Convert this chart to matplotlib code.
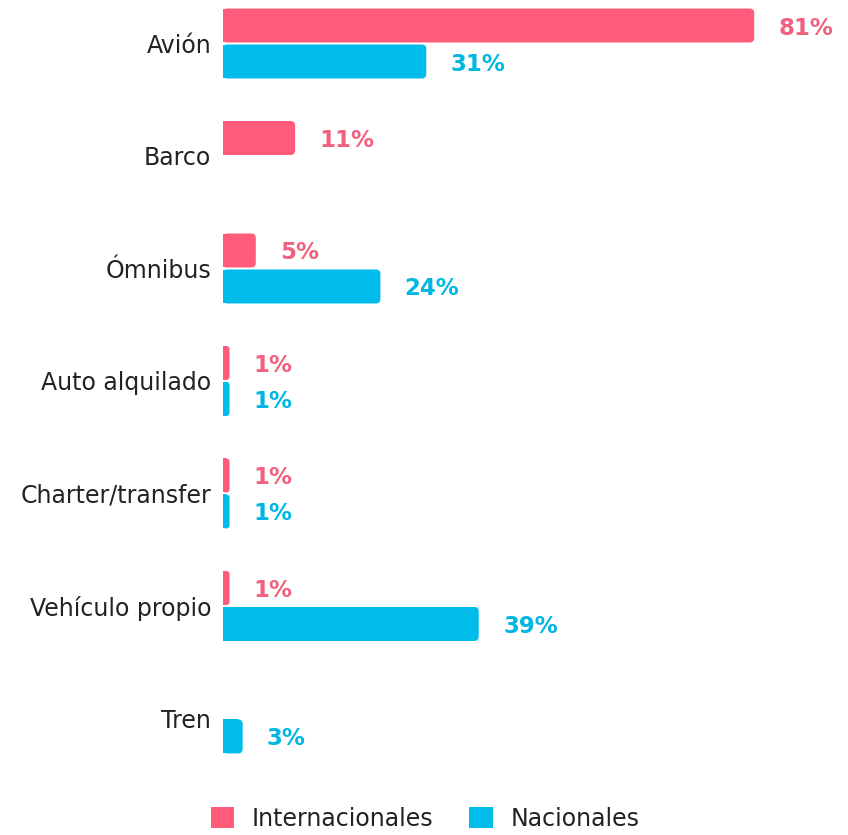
import numpy as np
import matplotlib
matplotlib.use("Agg")
import matplotlib.pyplot as plt
from matplotlib.patches import FancyBboxPatch, BoxStyle, Patch

categories = ["Avión", "Barco", "Ómnibus", "Auto alquilado",
              "Charter/transfer", "Vehículo propio", "Tren"]
internacionales = [81, 11, 5, 1, 1, 1, 0]
nacionales = [31, 0, 24, 1, 1, 39, 3]
series_names = ["Internacionales", "Nacionales"]

PINK = "#FF5C7B"
CYAN = "#00BCEA"
PINK_TXT = "#F2607F"
CYAN_TXT = "#00B6E2"

plt.rcParams['font.family'] = ['DejaVu Sans']

W, H = 848, 835
fig = plt.figure(figsize=(W / 100, H / 100), dpi=100)
ax = fig.add_axes([223 / W, 55 / H, 625 / W, 780 / H])

y = np.arange(len(categories))
bh = 0.302
off = 0.16

ax.set_xlim(0, 95.3)
ax.set_ylim(6.547, -0.3867)

bars_i = ax.barh(y - off, internacionales, height=bh, color=PINK, linewidth=0)
bars_n = ax.barh(y + off, nacionales, height=bh, color=CYAN, linewidth=0)

# pixel scale
p0 = ax.transData.transform((0, 0))
px_x = ax.transData.transform((1, 0))[0] - p0[0]
px_y = abs(ax.transData.transform((0, 1))[1] - p0[1])
aspect = px_x / px_y


def round_right(bars, color):
    for b in bars:
        w = b.get_width()
        if w <= 0:
            continue
        x0, y0, h = b.get_x(), b.get_y(), b.get_height()
        r_px = min(4.5, w * px_x / 2 - 0.2)
        r = r_px / px_x
        b.set_width(max(w - r, 0))
        fb = FancyBboxPatch((x0, y0), w, h,
                            boxstyle=BoxStyle.Round(pad=0, rounding_size=r),
                            mutation_aspect=aspect, facecolor=color,
                            edgecolor="none", linewidth=0)
        ax.add_patch(fb)


round_right(bars_i, PINK)
round_right(bars_n, CYAN)

for vals, ys, col in [(internacionales, y - off, PINK_TXT), (nacionales, y + off, CYAN_TXT)]:
    for v, yy in zip(vals, ys):
        if v <= 0:
            continue
        ax.annotate(f"{v}%", xy=(v, yy), xytext=(17.5, 0), textcoords="offset points",
                    ha="left", va="center_baseline", fontsize=16.5,
                    fontweight="bold", color=col)

ax.set_yticks(y)
ax.set_yticklabels(categories, fontsize=17, color="#222222")
ax.tick_params(axis="y", length=0, pad=8.5)
ax.set_xticks([])
for s in ax.spines.values():
    s.set_visible(False)

handles = [Patch(facecolor=PINK, edgecolor="none"), Patch(facecolor=CYAN, edgecolor="none")]
fig.legend(handles, series_names, loc="center", bbox_to_anchor=(425 / W, 1 - 819 / H),
           ncol=2, frameon=False, fontsize=17, handlelength=1.0, handleheight=1.0,
           handletextpad=0.75, columnspacing=1.5, borderpad=0, labelcolor="#222222")

fig.savefig("out.png", dpi=100)
